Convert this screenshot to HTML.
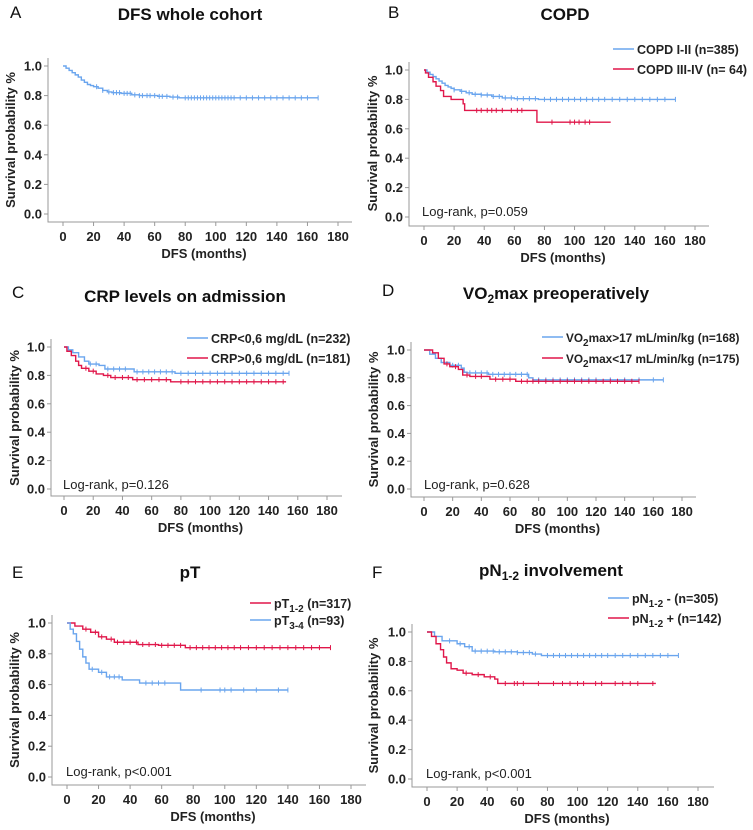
<!DOCTYPE html>
<html><head><meta charset="utf-8"><style>
html,body{margin:0;padding:0;background:#fff}
svg{display:block;font-family:"Liberation Sans",Arial,sans-serif}
.tk{font-size:13px;font-weight:bold;fill:#222}
.ttl{font-size:17px;font-weight:bold;fill:#111}
.lt{font-size:12.5px;font-weight:bold;fill:#222}
.lr{font-size:13px;fill:#222}
.let{font-size:17px;fill:#111}
</style></head><body>
<svg id="fig" width="753" height="830" viewBox="0 0 753 830"></svg>
<script>
// ---- data (time in months, survival probability) ----
const xTicks=[0,20,40,60,80,100,120,140,160,180];
const yTicks=[0,0.2,0.4,0.6,0.8,1.0];
const yTickLabels=["0.0","0.2","0.4","0.6","0.8","1.0"];
// A
const aT=[0,2,4,6,8,10,12,14,16,18,20,23,26,29,32,38,45,50,62,70,76];
const aS=[1,0.985,0.97,0.955,0.94,0.925,0.905,0.89,0.875,0.868,0.86,0.85,0.835,0.825,0.82,0.815,0.805,0.80,0.795,0.79,0.785];
const aEnd=167;
const aC=[22,26,30,33,35,37,40,42,44,47,50,52,55,57,60,63,65,68,72,75,80,82,84,86,88,90,92,94,96,98,100,102,104,106,108,110,112,116,120,124,128,132,136,140,144,148,152,156,160,167];
// B
const b1T=[0,2,4,6,8,10,12,14,16,18,20,24,28,32,38,45,52,60,76];
const b1S=[1,0.985,0.97,0.955,0.94,0.925,0.91,0.895,0.885,0.875,0.865,0.855,0.845,0.835,0.83,0.82,0.81,0.805,0.80];
const b1End=167;
const b1C=[20,25,30,34,38,42,46,50,54,58,62,66,70,74,80,84,88,92,96,100,104,108,112,116,120,125,130,135,140,145,150,155,160,167];
const b2T=[0,1,3,6,8,11,13,18,26,27,75];
const b2S=[1,0.98,0.95,0.92,0.89,0.86,0.82,0.80,0.77,0.725,0.645];
const b2End=124;
const b2C=[35,38,42,45,48,52,58,62,65,85,97,100,103,107,110];
// C
const c1T=[0,3,6,10,14,17,24,28,48,76];
const c1S=[1,0.98,0.96,0.93,0.90,0.88,0.87,0.845,0.825,0.815];
const c1End=154;
const c1C=[18,22,30,34,38,42,50,54,58,62,66,70,74,80,85,90,95,100,105,110,115,120,125,130,135,140,145,150,154];
const c2T=[0,2,5,8,10,12,17,22,27,32,47,73];
const c2S=[1,0.97,0.94,0.90,0.87,0.85,0.83,0.81,0.80,0.785,0.77,0.755];
const c2End=152;
const c2C=[15,20,30,35,40,44,50,55,60,65,70,80,85,90,95,100,105,110,115,120,125,130,135,140,145,150];
// D
const d1T=[0,4,8,12,18,26,28,30,45,73,76];
const d1S=[1,0.97,0.94,0.91,0.89,0.87,0.84,0.835,0.825,0.80,0.785];
const d1End=167;
const d1C=[20,24,32,36,40,44,48,52,56,60,64,68,72,80,85,90,95,100,105,110,115,120,130,140,150,160,167];
const d2T=[0,6,10,14,18,24,27,32,46,64];
const d2S=[1,0.98,0.94,0.90,0.88,0.86,0.82,0.81,0.79,0.775];
const d2End=150;
const d2C=[16,22,30,36,40,50,55,60,68,72,76,80,85,90,95,100,105,110,115,120,125,130,135,140,145,150];
// E
const e1T=[0,5,10,15,20,25,30,45,58,75];
const e1S=[1,0.98,0.96,0.94,0.91,0.895,0.875,0.86,0.855,0.84];
const e1End=167;
const e1C=[12,18,22,28,32,36,40,44,48,52,56,60,64,68,72,78,82,86,90,94,98,102,106,110,115,120,125,130,135,140,145,150,155,160,167];
const e2T=[0,2,4,6,8,10,12,14,20,25,35,46,72];
const e2S=[1,0.96,0.93,0.88,0.83,0.78,0.74,0.70,0.68,0.65,0.63,0.61,0.565];
const e2End=140;
const e2C=[16,22,27,30,33,50,54,58,62,85,97,100,104,112,120,134,140];
// F
const f1T=[0,5,10,20,25,30,45,60,70,76];
const f1S=[1,0.97,0.94,0.92,0.90,0.87,0.865,0.86,0.85,0.84];
const f1End=167;
const f1C=[15,22,28,32,36,40,44,48,52,56,60,64,68,72,80,84,88,92,96,100,104,108,112,116,120,125,130,135,140,145,150,155,160,167];
const f2T=[0,3,6,9,11,13,16,20,24,30,38,45,47];
const f2S=[1,0.97,0.92,0.88,0.83,0.79,0.75,0.74,0.72,0.71,0.695,0.68,0.65];
const f2End=152;
const f2C=[26,34,42,52,58,60,64,74,84,90,95,100,104,112,116,125,130,135,140,150];

const BLUE="#6aa5ee", RED="#e0174a";
const NS="http://www.w3.org/2000/svg";
const svg=document.getElementById('fig');
function mk(tag,attrs,parent){const e=document.createElementNS(NS,tag);for(const k in attrs)e.setAttribute(k,attrs[k]);(parent||svg).appendChild(e);return e;}

const panels=[
 {id:'a',letter:'A',lx:10,ly:18,title:'DFS whole cohort',tx:190,ty:20,x0:63,x1:338,yTop:66,yBot:214,axL:48,axB:222,axR:352,ytx:15,lfs:12.5,
  series:[{T:aT,S:aS,end:aEnd,C:aC,col:BLUE,name:'whole-cohort'}],legend:[],lr:null},
 {id:'b',letter:'B',lx:388,ly:18,title:'COPD',tx:565,ty:20,x0:424,x1:695,yTop:70,yBot:217,axL:409,axB:226,axR:709,ytx:377,lfs:12.5,
  series:[{T:b1T,S:b1S,end:b1End,C:b1C,col:BLUE,name:'copd-i-ii'},{T:b2T,S:b2S,end:b2End,C:b2C,col:RED,name:'copd-iii-iv'}],
  legend:[{y:49,x:613,col:BLUE,txt:'COPD I-II (n=385)'},{y:69,x:613,col:RED,txt:'COPD III-IV (n= 64)'}],lr:{x:422,y:216,txt:'Log-rank, p=0.059'}},
 {id:'c',letter:'C',lx:12,ly:298,title:'CRP levels on admission',tx:185,ty:302,x0:64,x1:327,yTop:347,yBot:489,axL:51,axB:496,axR:342,ytx:19,lfs:12.5,
  series:[{T:c1T,S:c1S,end:c1End,C:c1C,col:BLUE,name:'crp-low'},{T:c2T,S:c2S,end:c2End,C:c2C,col:RED,name:'crp-high'}],
  legend:[{y:338,x:187,col:BLUE,txt:'CRP<0,6 mg/dL (n=232)'},{y:358,x:187,col:RED,txt:'CRP>0,6 mg/dL (n=181)'}],lr:{x:63,y:489,txt:'Log-rank, p=0.126'}},
 {id:'d',letter:'D',lx:382,ly:296,title:'VO|2|max preoperatively',tx:556,ty:299,x0:424,x1:682,yTop:350,yBot:489,axL:411,axB:497,axR:696,ytx:378,lfs:11.8,
  series:[{T:d1T,S:d1S,end:d1End,C:d1C,col:BLUE,name:'vo2-high'},{T:d2T,S:d2S,end:d2End,C:d2C,col:RED,name:'vo2-low'}],
  legend:[{y:337,x:542,col:BLUE,txt:'VO|2|max>17 mL/min/kg (n=168)'},{y:358,x:542,col:RED,txt:'VO|2|max<17 mL/min/kg (n=175)'}],lr:{x:424,y:489,txt:'Log-rank, p=0.628'}},
 {id:'e',letter:'E',lx:12,ly:578,title:'pT',tx:190,ty:578,x0:67,x1:351,yTop:623,yBot:777,axL:52,axB:785,axR:366,ytx:19,lfs:12.5,
  series:[{T:e1T,S:e1S,end:e1End,C:e1C,col:RED,name:'pt1-2'},{T:e2T,S:e2S,end:e2End,C:e2C,col:BLUE,name:'pt3-4'}],
  legend:[{y:603,x:250,col:RED,txt:'pT|1-2| (n=317)'},{y:620,x:250,col:BLUE,txt:'pT|3-4| (n=93)'}],lr:{x:66,y:776,txt:'Log-rank, p<0.001'}},
 {id:'f',letter:'F',lx:372,ly:578,title:'pN|1-2| involvement',tx:551,ty:576,x0:427,x1:698,yTop:632,yBot:779,axL:412,axB:787,axR:714,ytx:378,lfs:12.5,
  series:[{T:f1T,S:f1S,end:f1End,C:f1C,col:BLUE,name:'pn-negative'},{T:f2T,S:f2S,end:f2End,C:f2C,col:RED,name:'pn-positive'}],
  legend:[{y:598,x:608,col:BLUE,txt:'pN|1-2| - (n=305)'},{y:618,x:608,col:RED,txt:'pN|1-2| + (n=142)'}],lr:{x:426,y:778,txt:'Log-rank, p<0.001'}}
];

function richText(el,txt,subSize){
  const parts=txt.split('|');
  parts.forEach((p,i)=>{
    const t=mk('tspan',{},el);
    if(i%2===1){t.setAttribute('font-size',subSize);t.setAttribute('dy','4');}
    else if(i>0){t.setAttribute('dy','-4');}
    t.textContent=p;
  });
}
function survAt(T,S,t){let s=S[0];for(let i=0;i<T.length;i++){if(T[i]<=t)s=S[i];}return s;}

panels.forEach(p=>{
  const g=mk('g',{});
  
  
  const xs=v=>p.x0+(p.x1-p.x0)*v/180;
  const ys=v=>p.yBot-(p.yBot-p.yTop)*v;
  const L=mk('text',{x:p.lx,y:p.ly,class:'let'},g);L.textContent=p.letter;
  
  
  const T=mk('text',{x:p.tx,y:p.ty,class:'ttl','text-anchor':'middle'},g);richText(T,p.title,'12');
  
  
  const ax=mk('path',{d:`M${p.axL},${ys(1.0)-8}V${p.axB}H${p.axR}`,fill:'none',stroke:'#999','stroke-width':1},g);
  
  
  yTicks.forEach((v,i)=>{
    mk('line',{x1:p.axL-4,x2:p.axL,y1:ys(v),y2:ys(v),stroke:'#999'},g);
    const t=mk('text',{x:p.axL-6,y:ys(v)+4.5,class:'tk','text-anchor':'end'},g);t.textContent=yTickLabels[i];
    
    
  });
  xTicks.forEach(v=>{
    mk('line',{x1:xs(v),x2:xs(v),y1:p.axB,y2:p.axB+4,stroke:'#999'},g);
    const t=mk('text',{x:xs(v),y:p.axB+19,class:'tk','text-anchor':'middle'},g);t.textContent=v;
    
    
  });
  const xt=mk('text',{x:(p.axL+p.axR)/2+4,y:p.axB+36,class:'tk','text-anchor':'middle'},g);xt.textContent='DFS (months)';
  
  
  const yc=(ys(0)+ys(1))/2;
  const yt=mk('text',{x:p.ytx,y:yc,class:'tk','text-anchor':'middle',transform:`rotate(-90 ${p.ytx} ${yc})`},g);
  yt.textContent='Survival probability %';
  
  
  p.series.forEach(s=>{
    let d=`M${xs(s.T[0])},${ys(s.S[0])}`;
    for(let i=1;i<s.T.length;i++){d+=`H${xs(s.T[i])}V${ys(s.S[i])}`;}
    d+=`H${xs(s.end)}`;
    const path=mk('path',{d:d,fill:'none',stroke:s.col,'stroke-width':1.4},g);
    
    
    let cd='';
    s.C.forEach(c=>{const y=ys(survAt(s.T,s.S,c));cd+=`M${xs(c)},${y-2.5}V${y+2.5}`;});
    const cp=mk('path',{d:cd,stroke:s.col,'stroke-width':1,fill:'none'},g);
    
    
  });
  p.legend.forEach(l=>{
    const lg=mk('g',{},g);
    
    
    mk('line',{x1:l.x,x2:l.x+21,y1:l.y,y2:l.y,stroke:l.col,'stroke-width':1.6},lg);
    const t=mk('text',{x:l.x+24,y:l.y+5,class:'lt','font-size':p.lfs},lg);
    t.style.fontSize=p.lfs+'px';
    richText(t,l.txt,'10');
  });
  if(p.lr){
    const t=mk('text',{x:p.lr.x,y:p.lr.y,class:'lr'},g);t.textContent=p.lr.txt;
    
    
  }
});
</script>
</body></html>
